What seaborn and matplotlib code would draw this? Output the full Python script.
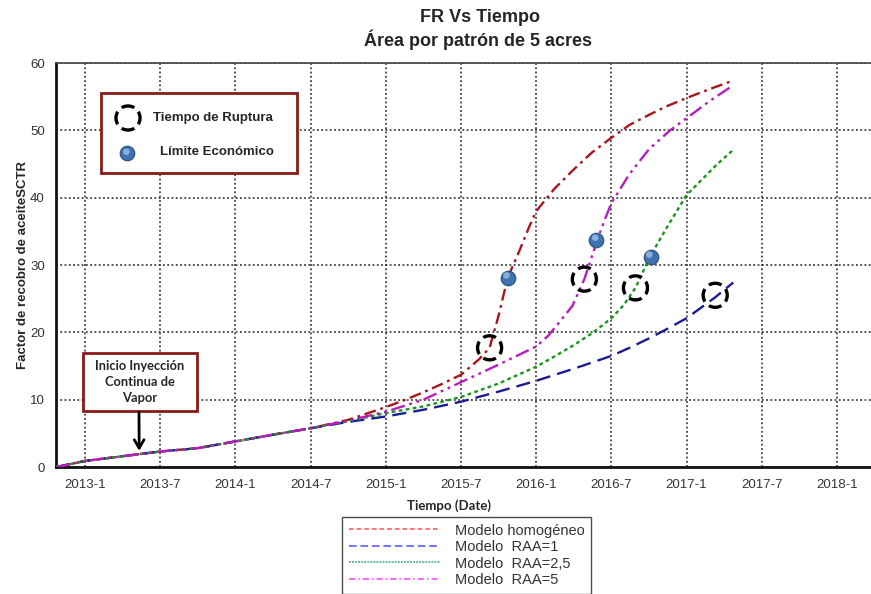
import matplotlib
matplotlib.use("Agg")
import matplotlib.pyplot as plt
from matplotlib.lines import Line2D
from matplotlib.patches import Rectangle
import seaborn as sns
import pandas as pd

# ---------------- data (decimal years, recovery factor %) ----------------
t_homog = [2012.81, 2013.0, 2013.25, 2013.5, 2013.75, 2014.0, 2014.25, 2014.5, 2014.75,
           2015.0, 2015.12, 2015.25, 2015.37, 2015.5, 2015.62, 2015.69, 2015.75, 2015.81,
           2015.89, 2015.95, 2016.0, 2016.12, 2016.25, 2016.37, 2016.5, 2016.62, 2016.75,
           2016.87, 2017.0, 2017.15, 2017.31]
fr_homog = [0.0, 0.9, 1.6, 2.3, 2.8, 3.8, 4.8, 5.75, 7.0,
            8.9, 9.9, 11.1, 12.3, 13.7, 16.0, 17.7, 22.5, 28.1,
            32.2, 35.5, 38.0, 41.3, 44.2, 46.7, 48.9, 50.8, 52.3,
            53.6, 54.8, 56.1, 57.4]

t_raa1 = [2012.81, 2013.0, 2013.25, 2013.5, 2013.75, 2014.0, 2014.25, 2014.5, 2014.75,
          2015.0, 2015.25, 2015.5, 2015.75, 2016.0, 2016.25, 2016.5, 2016.62, 2016.75,
          2016.87, 2017.0, 2017.19, 2017.31]
fr_raa1 = [0.0, 0.9, 1.6, 2.3, 2.8, 3.8, 4.8, 5.75, 6.7,
           7.5, 8.5, 9.7, 11.2, 12.8, 14.6, 16.5, 17.7, 19.1,
           20.5, 22.1, 25.2, 27.4]

t_raa25 = [2012.81, 2013.0, 2013.25, 2013.5, 2013.75, 2014.0, 2014.25, 2014.5, 2014.75,
           2015.0, 2015.25, 2015.5, 2015.75, 2016.0, 2016.12, 2016.25, 2016.38, 2016.5,
           2016.58, 2016.66, 2016.76, 2016.88, 2017.0, 2017.08, 2017.2, 2017.31]
fr_raa25 = [0.0, 0.9, 1.6, 2.3, 2.8, 3.8, 4.8, 5.75, 6.8,
            8.0, 9.0, 10.4, 12.4, 14.9, 16.4, 18.1, 20.0, 22.1,
            24.0, 26.6, 31.4, 36.0, 40.4, 42.2, 44.9, 47.1]

t_raa5 = [2012.81, 2013.0, 2013.25, 2013.5, 2013.75, 2014.0, 2014.25, 2014.5, 2014.75,
          2015.0, 2015.25, 2015.5, 2015.75, 2016.0, 2016.08, 2016.15, 2016.24, 2016.32,
          2016.40, 2016.45, 2016.5, 2016.62, 2016.75, 2016.89, 2017.0, 2017.15, 2017.31]
fr_raa5 = [0.0, 0.9, 1.6, 2.3, 2.8, 3.8, 4.8, 5.75, 6.9,
           8.2, 10.0, 12.6, 15.2, 17.9, 19.5, 21.4, 23.9, 27.9,
           33.3, 36.4, 39.2, 43.5, 47.2, 50.0, 51.8, 54.3, 56.7]

# markers
t_ruptura = [2015.69, 2016.32, 2016.66, 2017.19]
fr_ruptura = [17.7, 27.9, 26.6, 25.5]
t_limite = [2015.81, 2016.40, 2016.76]
fr_limite = [28.1, 33.7, 31.2]

series_names = ["Modelo homogéneo", "Modelo  RAA=1", "Modelo  RAA=2,5", "Modelo  RAA=5"]

x_ticks = [2013.0, 2013.5, 2014.0, 2014.5, 2015.0, 2015.5, 2016.0, 2016.5, 2017.0, 2017.5, 2018.0]
x_tick_labels = ["2013-1", "2013-7", "2014-1", "2014-7", "2015-1", "2015-7",
                 "2016-1", "2016-7", "2017-1", "2017-7", "2018-1"]
y_ticks = [0, 10, 20, 30, 40, 50, 60]

# ---------------- style ----------------
sns.set_style("white")
plt.rcParams["font.family"] = ["Liberation Sans", "DejaVu Sans"]

W, H = 871, 594
fig = plt.figure(figsize=(W / 100, H / 100), dpi=100)
ax = fig.add_axes([56 / W, 1 - 467 / H, (W - 56) / W, (467 - 63) / H])

line_colors = ["#a8161c", "#1b1b94", "#18961e", "#b81cbc"]
line_styles = [(0, (5, 2, 1.2, 2)), (0, (6, 3)), (0, (1.6, 1.4)), (0, (6, 2, 1.2, 2, 1.2, 2))]
ts = [t_homog, t_raa1, t_raa25, t_raa5]
frs = [fr_homog, fr_raa1, fr_raa25, fr_raa5]

for t, fr, c, ls in zip(ts, frs, line_colors, line_styles):
    df = pd.DataFrame({"t": t, "fr": fr})
    sns.lineplot(data=df, x="t", y="fr", ax=ax, color=c, linestyle=ls,
                 linewidth=1.7, legend=False, zorder=3)

# economic limit points (spheres)
ax.scatter(t_limite, fr_limite, s=110, color="#3f72b0", edgecolors="#28507e",
           linewidths=0.8, zorder=5)
ax.scatter([t - 0.008 for t in t_limite], [f + 0.35 for f in fr_limite], s=22,
           color="#9cc0e8", edgecolors="none", zorder=6, alpha=0.8)

# breakthrough circles (dashed)
circle_ls = (1.975, (3.95, 1.72))
ax.scatter(t_ruptura, fr_ruptura, s=300, facecolors="none", edgecolors="black",
           linewidths=2.4, linestyle=circle_ls, zorder=6)

# axes limits / ticks
ax.set_xlim(2012.807, 2018.226)
ax.set_ylim(0, 60)
ax.set_xticks(x_ticks)
ax.set_xticklabels(x_tick_labels)
ax.set_yticks(y_ticks)
ax.tick_params(axis="both", direction="out", colors="black", labelcolor="#333333",
               labelsize=9.5, width=1.4)
ax.tick_params(axis="y", length=6.5, pad=1.5)
ax.tick_params(axis="x", length=5, pad=3.5)
ax.grid(True, color="#222222", linestyle=(0, (1.2, 1.6)), linewidth=1.1, zorder=0)
ax.set_axisbelow(True)

for side in ["left", "bottom"]:
    ax.spines[side].set_linewidth(2.0)
    ax.spines[side].set_color("#111111")
ax.spines["top"].set_linewidth(1.2)
ax.spines["top"].set_color("#444444")
ax.spines["right"].set_visible(False)

ax.set_ylabel("Factor de recobro de aceiteSCTR", fontsize=9.5, fontweight="bold",
              labelpad=0.5)
ax.set_xlabel("")
fig.text(449 / W, 1 - 506 / H, "Tiempo (Date)", ha="center", va="center",
         fontsize=9.5, fontweight="bold", family=["Lato", "DejaVu Sans"])

# title
fig.text(480 / W, 1 - 17 / H, "FR Vs Tiempo", ha="center", va="center",
         fontsize=13, fontweight="bold")
fig.text(478 / W, 1 - 40 / H, "Área por patrón de 5 acres", ha="center", va="center",
         fontsize=13, fontweight="bold")

# helpers: pixel -> axes fraction
def fx(px):
    return (px - 56) / (W - 56)

def fy(py):
    return (467 - py) / (467 - 63)

# in-plot marker key
ax.add_patch(Rectangle((fx(101), fy(173)), fx(297) - fx(101), fy(93) - fy(173),
                       transform=ax.transAxes, facecolor="white", edgecolor="#8b1a1a",
                       linewidth=2.0, zorder=7))
ax.scatter([fx(128)], [fy(118)], s=300, facecolors="none", edgecolors="black",
           linewidths=2.4, linestyle=circle_ls, transform=ax.transAxes, zorder=8)
ax.scatter([fx(127)], [fy(153)], s=110, color="#3f72b0", edgecolors="#28507e",
           linewidths=0.8, transform=ax.transAxes, zorder=8)
ax.scatter([fx(126.3)], [fy(151.8)], s=22, color="#9cc0e8", edgecolors="none",
           alpha=0.8, transform=ax.transAxes, zorder=9)
ax.text(fx(153), fy(118), "Tiempo de Ruptura", transform=ax.transAxes, ha="left",
        va="center", fontsize=9.5, fontweight="bold", zorder=9)
ax.text(fx(160), fy(152), "Límite Económico", transform=ax.transAxes, ha="left",
        va="center", fontsize=9.5, fontweight="bold", zorder=9)

# injection start annotation
ax.add_patch(Rectangle((fx(83), fy(411)), fx(197) - fx(83), fy(353) - fy(411),
                       transform=ax.transAxes, facecolor="white", edgecolor="#8b1a1a",
                       linewidth=2.0, zorder=7))
ax.text(fx(140), fy(382), "Inicio Inyección\nContinua de\nVapor", transform=ax.transAxes,
        ha="center", va="center", fontsize=9.3, fontweight="bold",
        family=["Lato", "DejaVu Sans"], linespacing=1.4, zorder=9)
ax.annotate("", xy=(2013.36, 2.4), xycoords="data",
            xytext=(fx(139), fy(412)), textcoords="axes fraction",
            arrowprops=dict(arrowstyle="->,head_length=0.6,head_width=0.35",
                            color="black", linewidth=2.0, shrinkA=0, shrinkB=0),
            zorder=9)

# bottom legend
legend_colors = ["#ff5050", "#4d4dff", "#35a57c", "#ff3cff"]
legend_styles = [(0, (3, 2)), (0, (5, 2.5)), (0, (1.2, 0.8)), (0, (4, 2, 1, 2))]
handles = [Line2D([0], [0], color=c, linestyle=ls, linewidth=1.1)
           for c, ls in zip(legend_colors, legend_styles)]
leg = fig.legend(handles, series_names, loc="upper left",
                 bbox_to_anchor=(342 / W, 1 - 517 / H), frameon=True, fancybox=False,
                 edgecolor="#222222", fontsize=10.5, handlelength=6.3,
                 handletextpad=1.0, labelspacing=0.17, borderpad=0.45,
                 borderaxespad=0)
leg.get_frame().set_linewidth(1.0)
for txt in leg.get_texts():
    txt.set_color("#333333")

fig.savefig("out.png", dpi=100)
